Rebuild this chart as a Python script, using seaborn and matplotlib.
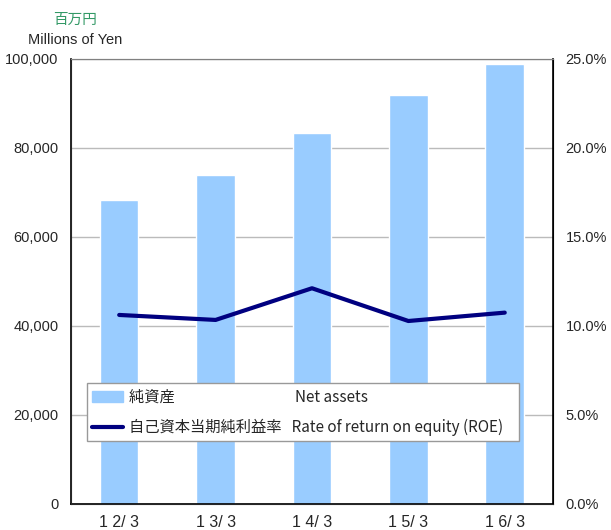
import matplotlib
matplotlib.use("Agg")
import matplotlib.pyplot as plt
import seaborn as sns
import pandas as pd
from matplotlib.ticker import FuncFormatter, MultipleLocator
from matplotlib.lines import Line2D
from matplotlib.patches import Patch

periods = ["1 2/ 3", "1 3/ 3", "1 4/ 3", "1 5/ 3", "1 6/ 3"]
net_assets = [68300, 73900, 83400, 91900, 98900]
roe = [10.62, 10.34, 12.12, 10.28, 10.75]

sns.set_style("white")
plt.rcParams["font.family"] = ["Liberation Sans", "Noto Sans CJK JP", "DejaVu Sans"]
cjk = ["Noto Sans CJK JP", "DejaVu Sans"]

df = pd.DataFrame({"period": periods, "assets": net_assets, "roe": roe})

fig = plt.figure(figsize=(6.11, 5.30), dpi=100)
ax = fig.add_axes([0.1162, 0.0491, 0.7888, 0.8396])

sns.barplot(data=df, x="period", y="assets", color="#99CCFF", saturation=1,
            width=0.4, ax=ax, zorder=2)
ax.set_ylim(0, 100000)
ax.set_xlim(-0.5, 4.5)
ax.yaxis.set_major_locator(MultipleLocator(20000))
ax.yaxis.set_major_formatter(FuncFormatter(lambda v, p: f"{int(v):,}"))
ax.grid(axis="y", color="#BBBBBB", linewidth=1, zorder=0)
ax.set_axisbelow(True)
ax.set_xlabel("")
ax.set_ylabel("")
ax.set_xticks([0, 1, 2, 3, 4])
ax.set_xticklabels(periods, fontsize=11.5)
ax.tick_params(axis="x", length=0, pad=8)
ax.set_xticks([0.5, 1.5, 2.5, 3.5], minor=True)
ax.tick_params(axis="x", which="minor", direction="in", length=5, color="#888888")
ax.tick_params(axis="y", labelsize=10.5, length=0, pad=9)
for s in ["left", "bottom"]:
    ax.spines[s].set_color("black")
    ax.spines[s].set_linewidth(1.2)
ax.spines["top"].set_color("#808080")
ax.spines["right"].set_color("black")

ax2 = ax.twinx()
sns.lineplot(data=df, x="period", y="roe", color="#000080", linewidth=3, ax=ax2,
             sort=False)
ax2.set_ylim(0, 25)
ax2.set_xlim(-0.5, 4.5)
ax2.yaxis.set_major_locator(MultipleLocator(5))
ax2.yaxis.set_major_formatter(FuncFormatter(lambda v, p: f"{v:.1f}%"))
ax2.tick_params(axis="y", labelsize=10.5, length=0, pad=9)
ax2.set_ylabel("")
ax2.set_xlabel("")
ax2.spines["top"].set_color("#808080")
ax2.spines["right"].set_color("black")
ax2.spines["right"].set_linewidth(1.2)

handles = [Patch(color="#99CCFF"), Line2D([0], [0], color="#000080", linewidth=3)]
labels = ["純資産　　　　　　　    Net assets",
          "自己資本当期純利益率   Rate of return on equity (ROE)"]
leg = ax2.legend(handles, labels, loc="lower left",
                 bbox_to_anchor=(0.0166, 0.1236, 0.929, 0.135),
                 mode="expand", frameon=True, fancybox=False, framealpha=1,
                 prop={"family": cjk, "size": 11},
                 handlelength=2, handletextpad=0.4, borderpad=0.35, labelspacing=0.85)
leg.get_frame().set_edgecolor("#999999")
leg.get_frame().set_linewidth(1)

fig.text(0.1227, 0.962, "百万円", color="#339966", ha="center", va="center",
         fontsize=10.5, family=cjk)
fig.text(0.1227, 0.925, "Millions of Yen", ha="center", va="center", fontsize=10.5)

fig.savefig("out.png", dpi=100)
